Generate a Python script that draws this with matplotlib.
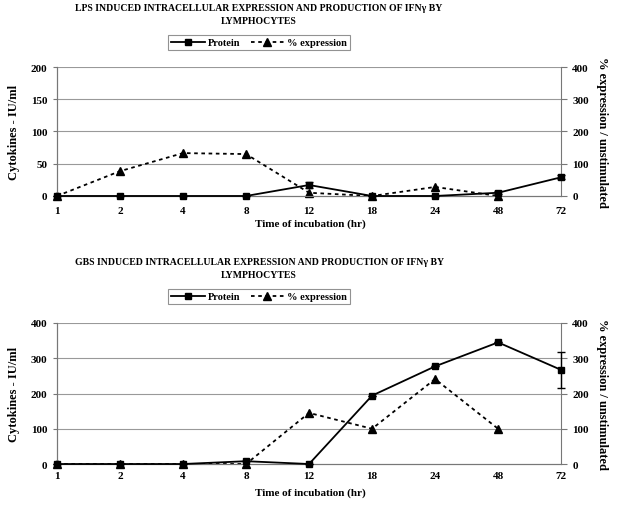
import matplotlib.pyplot as plt
from matplotlib.lines import Line2D
import numpy as np

plt.rcParams['font.family'] = ['Liberation Serif', 'DejaVu Serif']
plt.rcParams['font.weight'] = 'bold'

hours = ['1', '2', '4', '8', '12', '18', '24', '48', '72']

# LPS panel
lps_protein = [0, 0, 0, 0, 17, 0, 0, 5, 29]
lps_protein_err = [0, 0, 0, 0, 4, 0, 0, 2, 3]
lps_expr = [0, 77, 133, 130, 10, 0, 28, 0, np.nan]

# GBS panel
gbs_protein = [0, 0, 0, 8, 0, 194, 277, 345, 267]
gbs_protein_err = [0, 0, 0, 0, 0, 0, 0, 0, 50]
gbs_expr = [0, 0, 0, 0, 145, 100, 241, 100, np.nan]

panels = [
    dict(title="LPS INDUCED INTRACELLULAR EXPRESSION AND PRODUCTION OF IFN\u03b3 BY\nLYMPHOCYTES",
         protein=lps_protein, err=lps_protein_err, expr=lps_expr,
         lmax=200, lstep=50, rmax=400, rstep=100,
         rect=[0.0919, 0.6107, 0.8131, 0.2549], title_y=0.992, leg_y=0.914,
         xlab_y=0.557, xpad=7),
    dict(title="GBS INDUCED INTRACELLULAR EXPRESSION AND PRODUCTION OF IFN\u03b3 BY\nLYMPHOCYTES",
         protein=gbs_protein, err=gbs_protein_err, expr=gbs_expr,
         lmax=400, lstep=100, rmax=400, rstep=100,
         rect=[0.0919, 0.0810, 0.8131, 0.2787], title_y=0.490, leg_y=0.412,
         xlab_y=0.025, xpad=5),
]

fig = plt.figure(figsize=(6.2, 5.06), dpi=100)
x = np.arange(len(hours))

for p in panels:
    ax = fig.add_axes(p['rect'])
    ax2 = ax.twinx()
    # protein axis on top so its error bars sit over the right spine
    ax.set_zorder(ax2.get_zorder() + 1)
    ax.patch.set_visible(False)
    ax.set_xlim(0, len(hours) - 1)
    ax.set_ylim(0, p['lmax'])
    ax2.set_ylim(0, p['rmax'])
    ax.set_yticks(np.arange(0, p['lmax'] + 1, p['lstep']))
    ax2.set_yticks(np.arange(0, p['rmax'] + 1, p['rstep']))
    ax.set_xticks(x)
    ax.set_xticklabels(hours)
    ax2.grid(False)
    for gy in np.arange(p['lstep'], p['lmax'] + 1, p['lstep']):
        ax2.axhline(gy * p['rmax'] / p['lmax'], color='#999999', linewidth=0.8, zorder=0)
    for a in (ax, ax2):
        a.spines['top'].set_visible(False)
        for s in a.spines.values():
            s.set_color('#777777')
            s.set_linewidth(0.8)
    ax.spines['right'].set_visible(False)
    ax.tick_params(axis='x', length=0, pad=p['xpad'], labelsize=8)
    ax.tick_params(axis='y', length=3, color='#777777', labelsize=8, pad=4)
    ax2.tick_params(axis='y', length=4, color='#777777', labelsize=8, pad=4)

    eb = ax.errorbar(x, p['protein'], yerr=p['err'], color='black', linewidth=1.3,
                     marker='s', markersize=5, capsize=3, elinewidth=1.0, zorder=3)
    for artist in eb.get_children():
        artist.set_clip_on(False)
    ax2.plot(x, p['expr'], color='black', linestyle=(0, (2, 2)), linewidth=1.3,
             marker='^', markersize=6, clip_on=False, zorder=3)

    ax.set_ylabel('Cytokines - IU/ml', fontsize=9, fontweight='bold', labelpad=8)
    ax2.set_ylabel('% expression / unstimulated', fontsize=9, fontweight='bold',
                   rotation=270, labelpad=14)
    fig.text(0.418, p['title_y'], p['title'], ha='center', va='top', fontsize=7,
             fontweight='bold', linespacing=1.6)
    fig.text(0.5, p['xlab_y'], 'Time of incubation (hr)', ha='center', va='center',
             fontsize=8, fontweight='bold')
    h1 = Line2D([], [], color='black', linewidth=1.3, marker='s', markersize=5)
    h2 = Line2D([], [], color='black', linewidth=1.3, linestyle=(0, (2, 2)),
                marker='^', markersize=6)
    leg = fig.legend([h1, h2], ['Protein', '% expression'], loc='center',
                     bbox_to_anchor=(0.418, p['leg_y']), ncol=2, fontsize=7.5,
                     frameon=True, fancybox=False, edgecolor='#777777',
                     handlelength=3.2, columnspacing=1.0, handletextpad=0.3,
                     borderpad=0.3)
    leg.get_frame().set_linewidth(0.8)

fig.savefig('out.png', dpi=100, facecolor='white')
